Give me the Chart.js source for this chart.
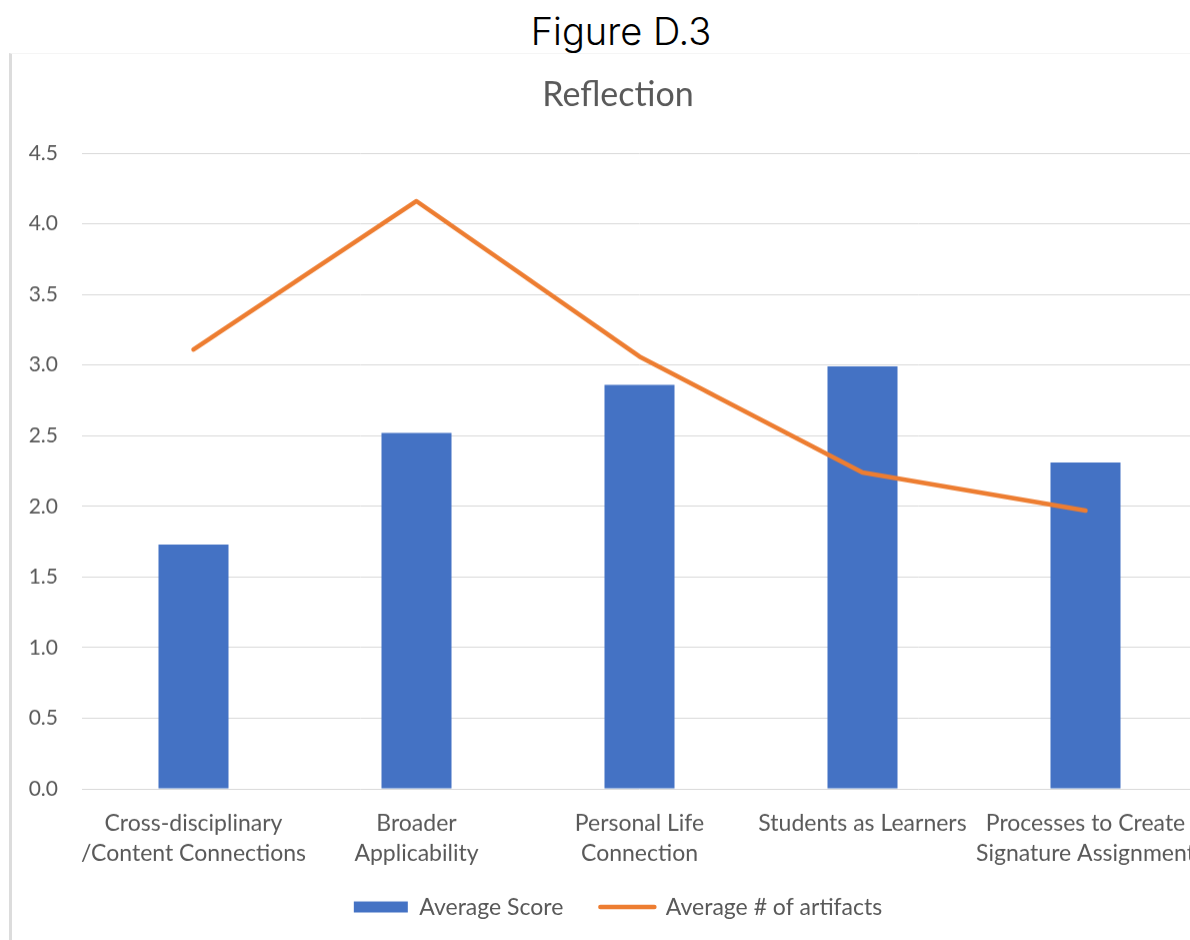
<!DOCTYPE html>
<html>
<head>
<meta charset="utf-8">
<script src="https://cdn.jsdelivr.net/npm/chart.js@4"></script>
<style>
  html, body { margin: 0; padding: 0; overflow: hidden; background: #ffffff; }
  body { width: 1190px; height: 940px; position: relative; }
  #figTitle {
    position: absolute; left: 421px; top: 12px; width: 400px;
    text-align: center; font-family: Inter, "Noto Sans", sans-serif;
    font-size: 38px; line-height: 38px; color: #000000; font-weight: 300;
  }
  #frame {
    position: absolute; left: 9px; top: 53px; width: 1300px; height: 900px;
    border-left: 3px solid #dcdcdc; border-top: 1px solid #f5f5f5;
  }
  #wrap { position: absolute; left: 12px; top: 54px; width: 1212px; height: 902.6px; }
</style>
</head>
<body>
<div id="figTitle">Figure D.3</div>
<div id="frame"></div>
<div id="wrap"><canvas id="chart"></canvas></div>
<script>
// Rubric criteria along the x axis (multi-line labels)
const categories = [
  ['Cross-disciplinary', '/Content Connections'],
  ['Broader', 'Applicability'],
  ['Personal Life', 'Connection'],
  ['Students as Learners'],
  ['Processes to Create', 'Signature Assignment']
];
// Series values
const averageScore = [1.73, 2.52, 2.86, 2.99, 2.31];
const averageArtifacts = [3.11, 4.16, 3.06, 2.24, 1.97];
// Series names
const seriesNames = ['Average Score', 'Average # of artifacts'];
// Value axis
const yMin = 0, yMax = 4.5, yStep = 0.5;

const textGray = '#595959';
const blue = '#4472C4';
const orange = '#ED7D31';
const uiFont = 'Lato, "Noto Sans", sans-serif';

// Pull the legend row up closer to the category labels
// (its label padding is wide for horizontal spacing only).
const legendLift = {
  id: 'legendLift',
  afterLayout(chart) {
    const lg = chart.legend;
    if (lg) { lg.top -= 29; lg.bottom -= 29; }
  }
};

new Chart(document.getElementById('chart'), {
  data: {
    labels: categories,
    datasets: [
      {
        type: 'bar',
        label: seriesNames[0],
        data: averageScore,
        backgroundColor: blue,
        borderColor: blue,
        borderWidth: 0,
        barPercentage: 0.314,
        categoryPercentage: 1.0,
        order: 1,
        yAxisID: 'y'
      },
      {
        type: 'line',
        label: seriesNames[1],
        data: averageArtifacts,
        borderColor: orange,
        backgroundColor: orange,
        borderWidth: 4.5,
        borderCapStyle: 'round',
        borderJoinStyle: 'round',
        pointRadius: 0,
        pointHoverRadius: 0,
        tension: 0,
        fill: false,
        order: 0,
        yAxisID: 'y'
      }
    ]
  },
  plugins: [legendLift],
  options: {
    responsive: true,
    maintainAspectRatio: false,
    animation: false,
    layout: { padding: 0 },
    plugins: {
      tooltip: { enabled: false },
      title: {
        display: true,
        text: 'Reflection',
        color: textGray,
        font: { family: uiFont, size: 34, weight: 'normal' },
        padding: { top: 20.8, bottom: 37.4 }
      },
      legend: {
        display: true,
        position: 'bottom',
        labels: {
          color: textGray,
          font: { family: uiFont, size: 23 },
          usePointStyle: true,
          pointStyleWidth: 54,
          boxHeight: 11,
          padding: 37,
          sort: (a, b) => a.datasetIndex - b.datasetIndex,
          generateLabels: (chart) => {
            const items = Chart.defaults.plugins.legend.labels.generateLabels(chart);
            items.forEach((it) => {
              if (it.datasetIndex === 0) {
                it.pointStyle = 'rect';
                it.lineWidth = 0;
              } else {
                it.pointStyle = 'line';
                it.lineWidth = 4.5;
                it.lineCap = 'round';
              }
            });
            return items;
          }
        }
      }
    },
    scales: {
      x: {
        grid: { display: false, drawTicks: false },
        border: { display: false },
        ticks: {
          color: textGray,
          font: { family: uiFont, size: 23, lineHeight: 1.29 },
          padding: 19.6,
          maxRotation: 0,
          minRotation: 0,
          autoSkip: false
        }
      },
      y: {
        position: 'left',
        min: yMin,
        max: yMax,
        grid: { color: '#d9d9d9', lineWidth: 1, drawTicks: false },
        border: { display: false },
        ticks: {
          stepSize: yStep,
          color: textGray,
          font: { family: uiFont, size: 21 },
          padding: 24,
          callback: (v) => Number(v).toFixed(1)
        },
        afterFit: (scale) => { scale.width = 70; }
      },
      yR: {
        position: 'right',
        display: true,
        grid: { display: false, drawTicks: false },
        border: { display: false },
        ticks: { display: false },
        afterFit: (scale) => { scale.width = 27; }
      }
    }
  }
});
</script>
</body>
</html>
